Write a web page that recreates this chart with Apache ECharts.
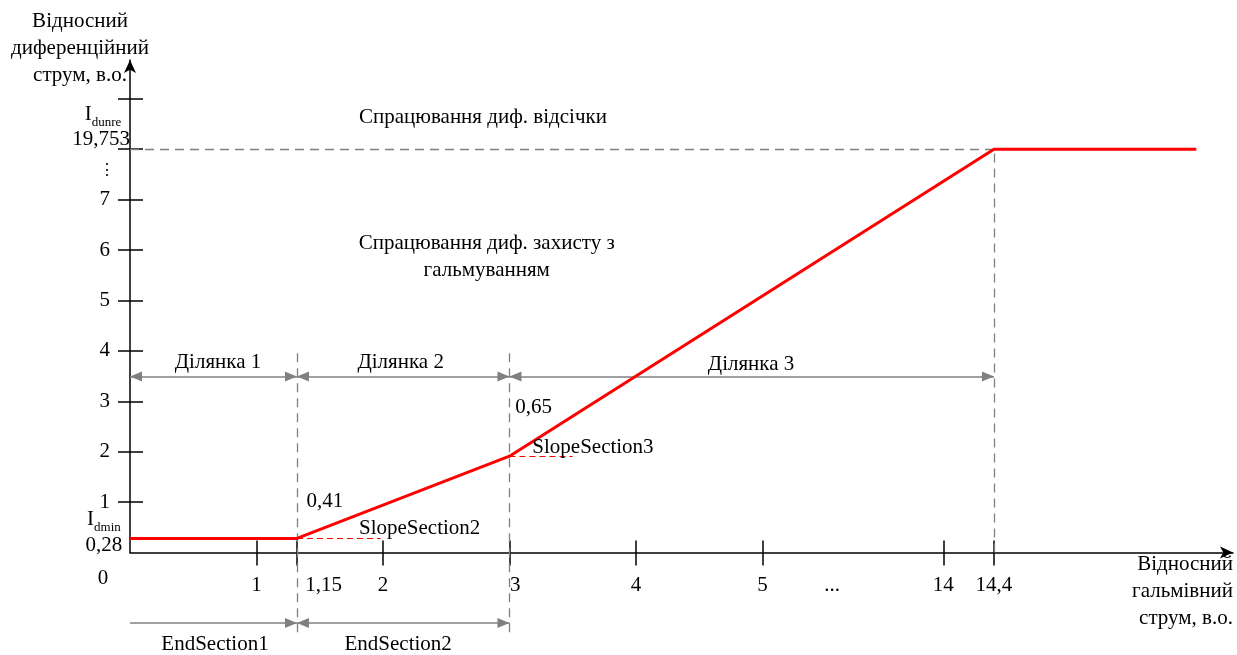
<!DOCTYPE html>
<html><head><meta charset="utf-8">
<script src="https://cdn.jsdelivr.net/npm/echarts@6/dist/echarts.min.js"></script>
<style>html,body{margin:0;padding:0;background:#fff}#c{width:1237px;height:655px}</style>
</head><body><div id="c"></div>
<script>
// Schematic (non-linear) axes: tick values and their schematic positions
const xTickPos    = [1, 1.32, 2, 3, 4, 5, 6.43, 6.83];
const xTickLabels = ['1', '1,15', '2', '3', '4', '5', '14', '14,4'];
const xPlainLabelPos = [1, 2, 4, 5, 6.43, 6.83];
const yTickPos    = [1, 2, 3, 4, 5, 6, 7, 8, 9];
const yTickLabels = ['1', '2', '3', '4', '5', '6', '7', '19,753', ''];
const yPlainLabelPos = [1, 2, 3, 4, 5, 6, 7];

// Characteristic break points (schematic positions)
const curveX = [0, 1.32, 3, 6.83, 8.43];
const curveY = [0.28, 0.28, 1.91, 8, 8];

// Slope reference segments [x start, level, x end]
const slopeRefs = [[1.32, 0.28, 1.98], [3, 1.91, 3.5]];

// Section boundaries
const sectionBounds = [0, 1.32, 3, 6.83];
const sectionNames = ['Ділянка 1', 'Ділянка 2', 'Ділянка 3'];
const endSectionNames = ['EndSection1', 'EndSection2'];
const cutoffLevel = 8;

const FONT = 'Liberation Serif';
const GRAY = '#808080';

const font = { fontFamily: FONT, fontSize: 21, color: '#000' };
const sub = { fontFamily: FONT, fontSize: 13, color: '#000', verticalAlign: 'bottom', padding: [0, 0, -1, 0] };

// text annotations: [text, x, y, align, fontSize?]
const notes = [
  ['0', -0.213, -0.506, 'center'],
  ['{m|I}{s|dmin}', -0.206, 0.66, 'center'],
  ['0,28', -0.206, 0.13, 'center'],
  ['{m|I}{s|dunre}', -0.213, 8.68, 'center'],
  [yTickLabels[7], -0.229, 8.19, 'center'],
  ['⋮', -0.18, 7.57, 'center', 16],
  [xTickLabels[1], 1.53, -0.645, 'center'],
  [xTickLabels[3], 3.045, -0.645, 'center'],
  ['...', 5.55, -0.645, 'center'],
  ['Спрацювання диф. відсічки', 2.79, 8.62, 'center'],
  ['Спрацювання диф. захисту з\nгальмуванням', 2.82, 5.87, 'center'],
  ['0,41', 1.54, 1.02, 'center'],
  ['SlopeSection2', 2.29, 0.48, 'center'],
  ['0,65', 3.19, 2.87, 'center'],
  ['SlopeSection3', 3.66, 2.08, 'center'],
  [sectionNames[0], 0.696, 3.77, 'center'],
  [sectionNames[1], 2.14, 3.77, 'center'],
  [sectionNames[2], 4.91, 3.73, 'center'],
  [endSectionNames[0], 0.672, -1.83, 'center'],
  [endSectionNames[1], 2.12, -1.83, 'center'],
  ['Відносний\nгальмівний\nструм, в.о.', 8.72, -0.78, 'right'],
  ['Відносний\nдиференційний\nструм, в.о.', -0.395, 9.99, 'center']
];

const chart = echarts.init(document.getElementById('c'), null, { renderer: 'canvas' });

const findLabel = (pos, arrP, arrL) => {
  const i = arrP.findIndex(p => Math.abs(p - pos) < 1e-6);
  return i >= 0 ? arrL[i] : '';
};

const axisLineStyle = { color: '#000', width: 1.5 };

const upperArrowY = 3.49, lowerArrowY = -1.4;
const dashTop = 4.06, dashBottom = -1.58;

// arrow head (10 wide, 12 long) whose tip sits at the centre of a square box
const ARROW = 'path://M12,12 L17,24 L7,24 Z M0,0 L24,0';
const ARROW_SIZE = 24;

const dashedGray = [
  { coords: [[sectionBounds[1], dashBottom], [sectionBounds[1], dashTop]] },
  { coords: [[sectionBounds[2], dashBottom], [sectionBounds[2], dashTop]] },
  { coords: [[sectionBounds[3], 0], [sectionBounds[3], cutoffLevel]] },
  { coords: [[0, cutoffLevel], [sectionBounds[3], cutoffLevel]] }
];

const doubleArrows = [
  { coords: [[sectionBounds[0], upperArrowY], [sectionBounds[1], upperArrowY]] },
  { coords: [[sectionBounds[1], upperArrowY], [sectionBounds[2], upperArrowY]] },
  { coords: [[sectionBounds[2], upperArrowY], [sectionBounds[3], upperArrowY]] },
  { coords: [[sectionBounds[1], lowerArrowY], [sectionBounds[2], lowerArrowY]] }
];
const singleArrows = [
  { coords: [[sectionBounds[0], lowerArrowY], [sectionBounds[1], lowerArrowY]] }
];

const option = {
  backgroundColor: '#fff',
  animation: false,
  grid: { left: 130, right: 4, top: 60, bottom: 102.5, containLabel: false },
  xAxis: [
    {
      type: 'value', min: 0, max: 8.72, position: 'bottom',
      splitLine: { show: false },
      axisLine: { show: true, onZero: false, lineStyle: axisLineStyle, symbol: ['none', 'arrow'], symbolSize: [9, 13] },
      axisTick: { show: true, inside: false, length: 13, lineStyle: axisLineStyle, customValues: xTickPos },
      axisLabel: { show: true, margin: 22, ...font, customValues: xPlainLabelPos,
        formatter: v => findLabel(v, xTickPos, xTickLabels) }
    },
    {
      type: 'value', min: 0, max: 8.72, position: 'bottom',
      splitLine: { show: false },
      axisLine: { show: false, onZero: false },
      axisTick: { show: true, inside: true, length: 12, lineStyle: axisLineStyle, customValues: xTickPos },
      axisLabel: { show: false }
    }
  ],
  yAxis: [
    {
      type: 'value', min: 0, max: 9.77, position: 'left',
      splitLine: { show: false },
      axisLine: { show: true, onZero: false, lineStyle: axisLineStyle, symbol: ['none', 'arrow'], symbolSize: [9, 13] },
      axisTick: { show: true, inside: false, length: 12, lineStyle: axisLineStyle, customValues: yTickPos },
      axisLabel: { show: true, margin: 20, ...font, customValues: yPlainLabelPos,
        formatter: v => findLabel(v, yTickPos, yTickLabels) }
    },
    {
      type: 'value', min: 0, max: 9.77, position: 'left',
      splitLine: { show: false },
      axisLine: { show: false, onZero: false },
      axisTick: { show: true, inside: true, length: 13, lineStyle: axisLineStyle, customValues: yTickPos },
      axisLabel: { show: false }
    }
  ],
  series: [
    {
      type: 'lines', coordinateSystem: 'cartesian2d', clip: false, silent: true, z: 3,
      lineStyle: { color: GRAY, width: 1.3, type: [9, 6], opacity: 1 },
      data: dashedGray
    },
    {
      type: 'lines', coordinateSystem: 'cartesian2d', clip: false, silent: true, z: 3,
      lineStyle: { color: '#ff0000', width: 1.2, type: [6, 4], opacity: 1 },
      data: slopeRefs.map(r => ({ coords: [[r[0], r[1]], [r[2], r[1]]] }))
    },
    {
      type: 'lines', coordinateSystem: 'cartesian2d', clip: false, silent: true, z: 4,
      symbol: [ARROW, ARROW], symbolSize: ARROW_SIZE,
      lineStyle: { color: GRAY, width: 1.5, opacity: 1 },
      itemStyle: { color: GRAY },
      data: doubleArrows
    },
    {
      type: 'lines', coordinateSystem: 'cartesian2d', clip: false, silent: true, z: 4,
      symbol: ['none', ARROW], symbolSize: ARROW_SIZE,
      lineStyle: { color: GRAY, width: 1.5, opacity: 1 },
      itemStyle: { color: GRAY },
      data: singleArrows
    },
    {
      type: 'line', clip: false, silent: true, z: 5,
      showSymbol: false, symbol: 'none',
      lineStyle: { color: '#ff0000', width: 3 },
      data: curveX.map((x, i) => [x, curveY[i]])
    },
    {
      type: 'scatter', clip: false, silent: true, z: 6,
      symbolSize: 0,
      itemStyle: { opacity: 1 },
      data: notes.map(n => ({
        value: [n[1], n[2]],
        label: {
          show: true, position: 'inside', formatter: n[0],
          align: n[3], verticalAlign: 'middle', lineHeight: 27,
          ...font, fontSize: n[4] || font.fontSize,
          rich: { m: { ...font }, s: sub }
        }
      }))
    }
  ]
};
chart.setOption(option);
</script>
</body></html>
